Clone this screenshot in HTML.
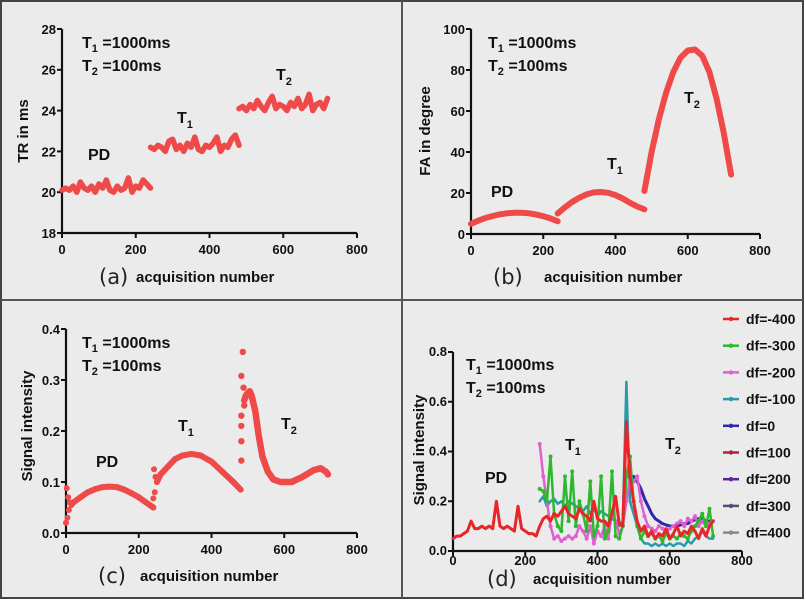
<!DOCTYPE html>
<html><head><meta charset="utf-8">
<style>
html,body{margin:0;padding:0;background:#fff;}
svg{display:block;font-family:"Liberation Sans",Arial,sans-serif;}
.tk{font-size:13px;font-weight:bold;fill:#111;}
.at{font-size:15px;font-weight:bold;fill:#111;}
.an{font-size:16px;font-weight:bold;fill:#111;}
.pl{font-size:21px;fill:#222;font-family:"DejaVu Sans","Liberation Sans",sans-serif;}
.lg{font-size:14px;font-weight:bold;fill:#111;}
</style></head>
<body>
<svg id="fig" width="806" height="610" viewBox="0 0 806 610">
<rect x="0" y="0" width="806" height="610" fill="#fff"/>
<rect x="1" y="1" width="802" height="597" fill="#ebebeb" stroke="#444" stroke-width="2"/>
<line x1="1" y1="300" x2="803" y2="300" stroke="#555" stroke-width="2"/>
<line x1="402" y1="1" x2="402" y2="598" stroke="#555" stroke-width="2"/>
</svg>
<script>
// ---------- DATA ----------
const xTicks = [0,200,400,600,800];
// (a) TR in ms, acquisitions every 10 (0..720)
const trPD = [20.1,20.2,20.1,20.3,20.0,20.5,20.2,20.1,20.3,20.0,20.4,20.2,20.6,20.1,20.0,20.3,20.1,20.2,20.7,20.0,20.3,20.2,20.6,20.4,20.2];
const trT1 = [22.2,22.1,22.3,22.2,22.0,22.5,22.6,22.1,22.3,22.0,22.4,22.2,22.7,22.1,22.0,22.3,22.2,22.4,22.7,22.0,22.3,22.2,22.6,22.8,22.3];
const trT2 = [24.1,24.2,24.0,24.3,24.1,24.5,24.2,24.0,24.4,24.7,24.1,24.3,24.2,24.0,24.4,24.2,24.6,24.1,24.3,24.8,24.0,24.3,24.4,24.1,24.6];
const aYTicks = [18,20,22,24,26,28];
// (b) FA in degree, acquisitions every 20
const faPD = [5,6.5,7.8,8.8,9.6,10.1,10.4,10.4,10.1,9.5,8.7,7.6,6.2];
const faT1 = [10,13,15.6,17.7,19.3,20.3,20.5,20.1,19,17.3,15.2,13.4,12];
const faT2 = [21,40,56,69,79,86,89.5,90,87,79,66,49,29];
const bYTicks = [0,20,40,60,80,100];
// (c) signal intensity
const cPDx = [0,2,4,6,8,10,15,20,40,60,80,100,120,140,160,180,200,220,240];
const cPDy = [0.02,0.088,0.03,0.07,0.045,0.06,0.055,0.06,0.07,0.08,0.086,0.09,0.091,0.09,0.085,0.078,0.07,0.06,0.05];
const cT1x = [240,242,244,246,250,260,280,300,320,345,370,400,430,460,480];
const cT1y = [0.068,0.125,0.08,0.11,0.1,0.115,0.13,0.145,0.152,0.155,0.152,0.14,0.12,0.1,0.085];
const cT2dotx = [482,482,482,482,482,486,488,490];
const cT2doty = [0.142,0.18,0.21,0.23,0.308,0.355,0.285,0.25];
const cT2x = [490,495,500,505,510,520,530,540,555,570,590,620,650,680,700,715,720];
const cT2y = [0.26,0.27,0.275,0.278,0.27,0.24,0.19,0.15,0.12,0.105,0.1,0.1,0.11,0.123,0.127,0.12,0.115];
const cYTicks = [0.0,0.1,0.2,0.3,0.4];
// (d) signal intensity per off-resonance, acquisitions every 10 (0..720)
const dRedPD = [0.05,0.06,0.06,0.07,0.08,0.12,0.09,0.09,0.1,0.09,0.1,0.09,0.2,0.1,0.09,0.1,0.09,0.08,0.18,0.09,0.08,0.07,0.07,0.06,0.1];
const dRedT1 = [0.13,0.14,0.12,0.15,0.14,0.16,0.18,0.15,0.14,0.13,0.17,0.15,0.14,0.12,0.2,0.13,0.12,0.12,0.1,0.15,0.22,0.11,0.1,0.52];
const dRedT2 = [0.3,0.2,0.12,0.08,0.1,0.06,0.08,0.05,0.07,0.06,0.09,0.05,0.07,0.1,0.06,0.08,0.07,0.1,0.08,0.05,0.09,0.06,0.1,0.12];
const dGreen = [0.25,0.24,0.2,0.38,0.15,0.1,0.08,0.3,0.12,0.32,0.1,0.2,0.15,0.08,0.28,0.06,0.1,0.3,0.05,0.08,0.32,0.06,0.05,0.1,0.3,
  0.38,0.2,0.1,0.05,0.08,0.06,0.07,0.05,0.06,0.04,0.07,0.05,0.06,0.05,0.07,0.06,0.05,0.08,0.1,0.12,0.15,0.1,0.17,0.06];
const dPink = [0.43,0.3,0.2,0.1,0.05,0.06,0.04,0.05,0.06,0.05,0.06,0.1,0.08,0.05,0.1,0.03,0.08,0.06,0.1,0.05,0.16,0.12,0.07,0.1,0.2,
  0.3,0.28,0.3,0.2,0.14,0.1,0.09,0.08,0.1,0.09,0.08,0.09,0.1,0.11,0.12,0.1,0.13,0.12,0.14,0.1,0.12,0.1,0.11,0.12];
const dTeal = [0.2,0.22,0.18,0.2,0.21,0.19,0.2,0.18,0.2,0.19,0.18,0.17,0.16,0.18,0.15,0.17,0.14,0.16,0.15,0.14,0.13,0.12,0.1,0.12,0.68,
  0.2,0.15,0.1,0.05,0.03,0.03,0.02,0.03,0.02,0.03,0.02,0.03,0.02,0.03,0.03,0.02,0.04,0.03,0.05,0.06,0.08,0.06,0.05,0.05];
const dBlue = [0.28,0.3,0.28,0.25,0.21,0.18,0.15,0.13,0.12,0.11,0.105,0.1,0.1,0.1,0.105,0.11,0.11,0.12,0.125,0.13,0.13,0.12,0.12,0.12];
const dYTicks = [0.0,0.2,0.4,0.6,0.8];
const legendLabels = ["df=-400","df=-300","df=-200","df=-100","df=0","df=100","df=200","df=300","df=400"];
const legendColors = ["#e8262a","#2db82d","#e060d0","#2a9aa8","#2a2ab0","#b02040","#6020a0","#505070","#888"];

// ---------- DRAW ----------
const NS = "http://www.w3.org/2000/svg";
const svg = document.getElementById("fig");
function mk(tag, attrs, parent){const e=document.createElementNS(NS,tag);for(const k in attrs)e.setAttribute(k,attrs[k]);(parent||svg).appendChild(e);return e;}
function txt(s, attrs, parent){const e=mk("text",attrs,parent);e.textContent=s;return e;}

function makeAxes(p){
  const g = mk("g",{});
  
  
  p.g = g;
  const tfs = p.tfs || 13, afs = p.afs || 15, xoff = p.xoff || 21;
  p.sx = v => p.x0 + (v/800)*(p.x1-p.x0);
  p.sy = v => p.y0 - (v-p.ymin)/(p.ymax-p.ymin)*(p.y0-p.yt);
  const ax = mk("path",{d:`M${p.x0},${p.yt} L${p.x0},${p.y0} L${p.x1},${p.y0}`,fill:"none",stroke:"#111","stroke-width":2.2},g);
  
  
  xTicks.forEach(t=>{
    const x=p.sx(t);
    mk("line",{x1:x,y1:p.y0,x2:x,y2:p.y0+5,stroke:"#111","stroke-width":2},g);
    const l=txt(String(t),{x:x,y:p.y0+xoff,"text-anchor":"middle",class:"tk","font-size":tfs},g);
    
    
  });
  p.yticks.forEach(t=>{
    const y=p.sy(t);
    mk("line",{x1:p.x0-5,y1:y,x2:p.x0,y2:y,stroke:"#111","stroke-width":2},g);
    const l=txt(p.fmt(t),{x:p.x0-6,y:y+tfs*0.38,"text-anchor":"end",class:"tk","font-size":tfs},g);
    
    
  });
  const yl=txt(p.ylabel,{x:0,y:0,transform:`translate(${p.ylx},${p.yly}) rotate(-90)`,"text-anchor":"middle",class:"at","font-size":afs},g);
  
  
  const xl=txt("acquisition number",{x:p.xlx,y:p.xly,class:"at","font-size":afs},g);
  
  
  const pl=txt(p.label,{x:p.plx,y:p.xly+2,class:"pl"},g);
  
  
  const a1=txt("",{x:p.tx,y:p.ty,class:"an"},g);
  a1.innerHTML='T<tspan font-size="11" dy="4">1</tspan><tspan dy="-4"> =1000ms</tspan>';
  
  
  const a2=txt("",{x:p.tx,y:p.ty+23,class:"an"},g);
  a2.innerHTML='T<tspan font-size="11" dy="4">2</tspan><tspan dy="-4"> =100ms</tspan>';
  
  
  p.segLabels.forEach(s=>{
    const e=txt("",{x:s[1],y:s[2],class:"an"},g);
    if(s[0]==="PD") e.textContent="PD";
    else e.innerHTML='T<tspan font-size="11" dy="5">'+s[0][1]+'</tspan>';
    
    
  });
  return p;
}
function line(p, xs, ys, color, w, name){
  let d="";let pen=false;
  xs.forEach((x,i)=>{const y=ys[i];if(y==null){pen=false;return;}d+=(pen?"L":"M")+p.sx(x).toFixed(1)+","+p.sy(y).toFixed(1);pen=true;});
  const e=mk("path",{d:d,fill:"none",stroke:color,"stroke-width":w,"stroke-linejoin":"round","stroke-linecap":"round"},p.g);
  
  
  return e;
}
function dots(p, xs, ys, color, r, name){
  const g=mk("g",{},p.g);
  
  
  xs.forEach((x,i)=>{ if(ys[i]==null) return; mk("circle",{cx:p.sx(x),cy:p.sy(ys[i]),r:r,fill:color},g); });
}
const step10 = (arr, start) => arr.map((_,i)=>start+i*10);
const step20 = (arr, start) => arr.map((_,i)=>start+i*20);
const RED="#ef4a4a";

// (a)
const pa = makeAxes({name:"panel-a-tr",x0:62,y0:233,x1:357,yt:29,ymin:18,ymax:28,yticks:aYTicks,fmt:t=>String(t),
  ylabel:"TR in ms",ylx:28,yly:131,xlx:136,xly:282,label:"(a)",plx:99,tx:82,ty:48,
  segLabels:[["PD",88,160],["T1",177,123],["T2",276,80]]});
line(pa, step10(trPD,0), trPD, RED, 5.5, "tr-pd-series");
line(pa, step10(trT1,240), trT1, RED, 5.5, "tr-t1-series");
line(pa, step10(trT2,480), trT2, RED, 5.5, "tr-t2-series");

// (b)
const pb = makeAxes({name:"panel-b-fa",x0:471,y0:234,x1:760,yt:29,ymin:0,ymax:100,yticks:bYTicks,fmt:t=>String(t),
  ylabel:"FA in degree",ylx:430,yly:131,xlx:544,xly:282,label:"(b)",plx:493,tx:488,ty:48,
  segLabels:[["PD",491,197],["T1",607,169],["T2",684,103]]});
line(pb, step20(faPD,0), faPD, RED, 6, "fa-pd-series");
line(pb, step20(faT1,240), faT1, RED, 6, "fa-t1-series");
line(pb, step20(faT2,480), faT2, RED, 6, "fa-t2-series");

// (c)
const pc = makeAxes({name:"panel-c-signal",x0:66,y0:533,x1:357,yt:329,ymin:0,ymax:0.4,yticks:cYTicks,fmt:t=>t.toFixed(1),
  ylabel:"Signal intensity",ylx:32,yly:426,xlx:140,xly:581,label:"(c)",plx:98,tx:82,ty:348,
  segLabels:[["PD",96,467],["T1",178,431],["T2",281,429]]});
line(pc, cPDx.slice(6), cPDy.slice(6), RED, 6, "signal-pd-series");
dots(pc, cPDx, cPDy, RED, 3, "signal-pd-points");
line(pc, cT1x.slice(4), cT1y.slice(4), RED, 6, "signal-t1-series");
dots(pc, cT1x, cT1y, RED, 3, "signal-t1-points");
dots(pc, cT2dotx, cT2doty, RED, 3.2, "signal-t2-points");
line(pc, cT2x, cT2y, RED, 6.5, "signal-t2-series");

// (d)
const pd = makeAxes({name:"panel-d-offresonance",x0:453,y0:551,x1:742,yt:352,ymin:0,ymax:0.8,yticks:dYTicks,fmt:t=>t.toFixed(1),
  tfs:11,afs:13,xoff:14,
  ylabel:"Signal intensity",ylx:424,yly:450,xlx:533,xly:584,label:"(d)",plx:487,tx:466,ty:370,
  segLabels:[["PD",485,483],["T1",565,450],["T2",665,449]]});
const dx0 = dRedPD.concat(dRedT1, dRedT2);
const nul = n => Array(n).fill(null);
const dBlueFull = nul(49).concat(dBlue);
const dTealFull = nul(24).concat(dTeal);
const dPinkFull = nul(24).concat(dPink);
const dGreenFull = nul(24).concat(dGreen);
const dRed = dx0;
const dx = dRed.map((_,i)=>i*10);
line(pd, dx, dBlueFull, "#2a2ab0", 3, "df-0-series");
line(pd, dx, dTealFull, "#2a9aa8", 2.5, "df-minus100-series");
line(pd, dx, dPinkFull, "#e060d0", 2.5, "df-minus200-series");
dots(pd, dx, dPinkFull, "#e060d0", 2, "df-minus200-markers");
line(pd, dx, dGreenFull, "#2db82d", 2.5, "df-minus300-series");
dots(pd, dx, dGreenFull, "#2db82d", 2, "df-minus300-markers");
line(pd, dx, dRed, "#e8262a", 3, "df-minus400-series");

// legend
const lg = mk("g",{});


legendLabels.forEach((s,i)=>{
  const y = 319 + i*26.7;
  const ent = mk("g",{},lg);
  
  
  mk("line",{x1:723,y1:y,x2:739,y2:y,stroke:legendColors[i],"stroke-width":2.5},ent);
  mk("circle",{cx:731,cy:y,r:2.2,fill:legendColors[i]},ent);
  txt(s,{x:746,y:y+5,class:"lg"},ent);
});
</script>
</body></html>
